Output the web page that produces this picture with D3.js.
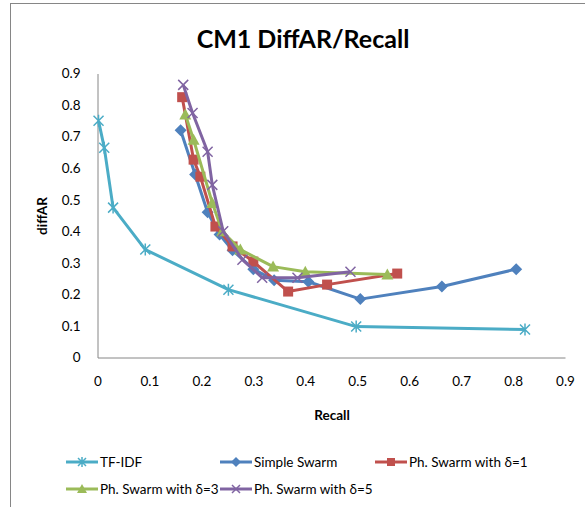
<!DOCTYPE html>
<html>
<head>
<meta charset="utf-8">
<script src="https://cdn.jsdelivr.net/npm/d3@7"></script>
<style>
  body { margin: 0; background: #fff; }
  svg { font-family: Lato, "Open Sans", sans-serif; }
</style>
</head>
<body>
<div id="js_chart"></div>
<script>
const xTicks = [0, 0.1, 0.2, 0.3, 0.4, 0.5, 0.6, 0.7, 0.8, 0.9];
const yTicks = [0, 0.1, 0.2, 0.3, 0.4, 0.5, 0.6, 0.7, 0.8, 0.9];

const seriesNames = ["TF-IDF", "Simple Swarm", "Ph. Swarm with δ=1", "Ph. Swarm with δ=3", "Ph. Swarm with δ=5"];

// recall / diffAR pairs
const tfidfRecall = [0.002, 0.013, 0.03, 0.092, 0.252, 0.498, 0.823];
const tfidfDiff = [0.75, 0.665, 0.475, 0.342, 0.215, 0.098, 0.089];

const simpleRecall = [0.16, 0.188, 0.212, 0.235, 0.26, 0.30, 0.34, 0.406, 0.506, 0.663, 0.806];
const simpleDiff = [0.72, 0.58, 0.46, 0.39, 0.34, 0.28, 0.245, 0.24, 0.185, 0.225, 0.28];

const ph1Recall = [0.163, 0.185, 0.198, 0.227, 0.26, 0.30, 0.367, 0.442, 0.577];
const ph1Diff = [0.825, 0.627, 0.573, 0.415, 0.352, 0.304, 0.209, 0.231, 0.266];

const ph3Recall = [0.169, 0.185, 0.221, 0.24, 0.275, 0.338, 0.40, 0.558];
const ph3Diff = [0.77, 0.69, 0.49, 0.40, 0.342, 0.288, 0.272, 0.263];

const ph5Recall = [0.165, 0.183, 0.212, 0.221, 0.242, 0.279, 0.317, 0.385, 0.487];
const ph5Diff = [0.864, 0.775, 0.652, 0.547, 0.40, 0.31, 0.253, 0.253, 0.272];

const colors = ["#4BACC6", "#4F81BD", "#C0504D", "#9BBB59", "#8064A2"];
const markers = ["star", "diamond", "square", "triangle", "cross"];

const width = 585;
const height = 507;

const svg = d3.select("#js_chart")
  .append("svg")
  .attr("width", width)
  .attr("height", height);

// chart frame
svg.append("rect")
  .attr("x", 10.5).attr("y", 3.5)
  .attr("width", 600).attr("height", 520)
  .attr("fill", "#fff")
  .attr("stroke", "#868686")
  .attr("stroke-width", 1);

const x = d3.scaleLinear().domain([0, 0.9]).range([97.5, 565]);
const y = d3.scaleLinear().domain([0, 0.9]).range([357.5, 73.5]);

svg.append("text")
  .attr("x", 303).attr("y", 48)
  .attr("text-anchor", "middle")
  .attr("font-size", 25)
  .attr("font-weight", "bold")
  .text("CM1 DiffAR/Recall");

const xAxis = svg.append("g")
  .attr("transform", `translate(0,${y(0)})`)
  .call(d3.axisBottom(x).tickValues(xTicks).tickSize(0).tickPadding(19)
    .tickFormat(d => d === 0 ? "0" : d3.format(".1f")(d)));
xAxis.select(".domain").attr("stroke", "#868686");
xAxis.selectAll("text").attr("font-size", 13.5).attr("fill", "#000")
  .attr("font-family", "Lato, sans-serif");

const yAxis = svg.append("g")
  .attr("transform", `translate(${x(0)},0)`)
  .call(d3.axisLeft(y).tickValues(yTicks).tickSize(0).tickPadding(17)
    .tickFormat(d => d === 0 ? "0" : d3.format(".1f")(d)));
yAxis.select(".domain").attr("stroke", "#868686");
yAxis.selectAll("text").attr("font-size", 13.5).attr("fill", "#000")
  .attr("font-family", "Lato, sans-serif");

svg.append("text")
  .attr("x", 332).attr("y", 420)
  .attr("text-anchor", "middle")
  .attr("font-size", 13.5)
  .attr("font-weight", "bold")
  .text("Recall");

svg.append("text")
  .attr("transform", "translate(47,216) rotate(-90)")
  .attr("text-anchor", "middle")
  .attr("font-size", 13.5)
  .attr("font-weight", "bold")
  .text("diffAR");

const series = [
  [tfidfRecall, tfidfDiff],
  [simpleRecall, simpleDiff],
  [ph1Recall, ph1Diff],
  [ph3Recall, ph3Diff],
  [ph5Recall, ph5Diff]
].map(([rx, dy], i) => ({
  name: seriesNames[i],
  color: colors[i],
  marker: markers[i],
  points: rx.map((r, j) => [r, dy[j]])
}));

function drawMarker(g, kind, color, cx, cy, s) {
  if (kind === "square") {
    g.append("rect").attr("x", cx - s).attr("y", cy - s)
      .attr("width", 2 * s).attr("height", 2 * s).attr("fill", color);
  } else if (kind === "diamond") {
    g.append("path")
      .attr("d", `M${cx},${cy - s - 1}L${cx + s + 1},${cy}L${cx},${cy + s + 1}L${cx - s - 1},${cy}Z`)
      .attr("fill", color);
  } else if (kind === "triangle") {
    g.append("path")
      .attr("d", `M${cx},${cy - s - 1}L${cx + s + 1},${cy + s}L${cx - s - 1},${cy + s}Z`)
      .attr("fill", color);
  } else if (kind === "cross") {
    g.append("path")
      .attr("d", `M${cx - s},${cy - s}L${cx + s},${cy + s}M${cx - s},${cy + s}L${cx + s},${cy - s}`)
      .attr("stroke", color).attr("stroke-width", 1.5);
  } else if (kind === "star") {
    g.append("path")
      .attr("d", `M${cx - s},${cy - s}L${cx + s},${cy + s}M${cx - s},${cy + s}L${cx + s},${cy - s}M${cx},${cy - s - 1}L${cx},${cy + s + 1}`)
      .attr("stroke", color).attr("stroke-width", 1.5);
  }
}

const line = d3.line().x(d => x(d[0])).y(d => y(d[1]));

series.forEach(sr => {
  const g = svg.append("g");
  g.append("path")
    .datum(sr.points)
    .attr("d", line)
    .attr("fill", "none")
    .attr("stroke", sr.color)
    .attr("stroke-width", 3)
    .attr("stroke-linejoin", "round");
  sr.points.forEach(p => drawMarker(g, sr.marker, sr.color, x(p[0]), y(p[1]), 5));
});

// legend
const legendPos = [[66, 462], [220, 462], [375, 462], [66, 489], [220, 489]];
series.forEach((sr, i) => {
  const [lx, ly] = legendPos[i];
  const g = svg.append("g");
  g.append("line")
    .attr("x1", lx).attr("x2", lx + 32)
    .attr("y1", ly).attr("y2", ly)
    .attr("stroke", sr.color).attr("stroke-width", 3);
  drawMarker(g, sr.marker, sr.color, lx + 16, ly, 4);
  g.append("text")
    .attr("x", lx + 34).attr("y", ly + 5)
    .attr("font-size", 13.5)
    .text(sr.name);
});
</script>
</body>
</html>
